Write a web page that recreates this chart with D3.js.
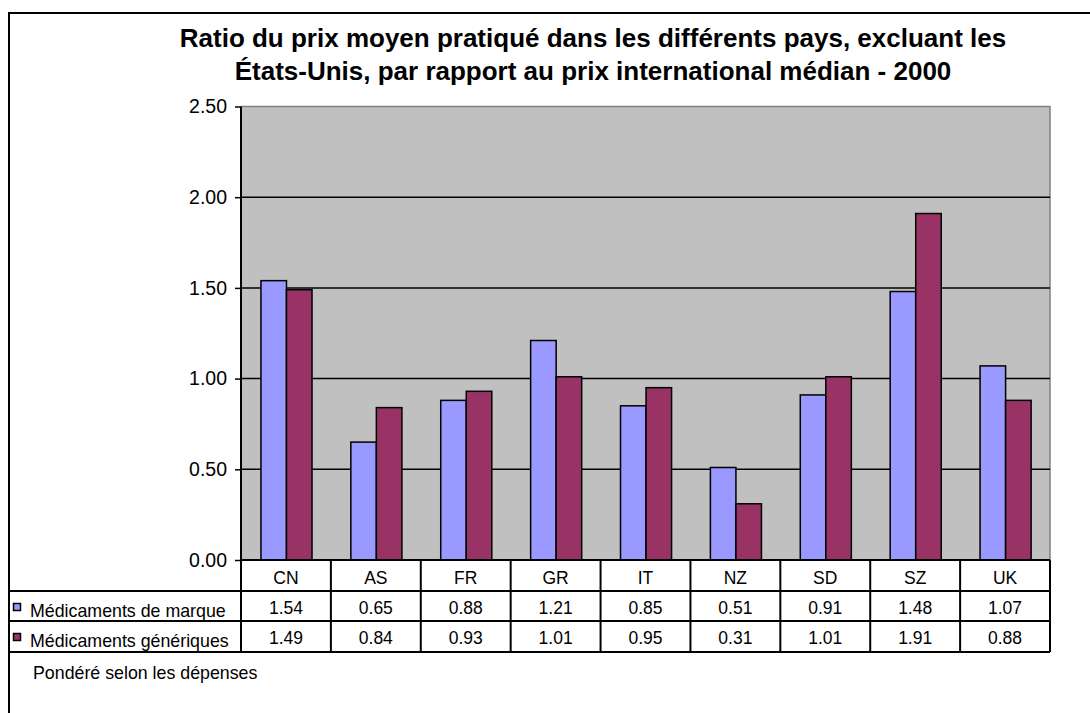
<!DOCTYPE html>
<html>
<head>
<meta charset="utf-8">
<script src="https://cdn.jsdelivr.net/npm/d3@7"></script>
<style>
  body { margin: 0; background: #fff; }
  svg { display: block; font-family: Arial, "Liberation Sans", sans-serif; }
</style>
</head>
<body>
<script>
// data
var countries = ["CN", "AS", "FR", "GR", "IT", "NZ", "SD", "SZ", "UK"];
var seriesNames = ["Médicaments de marque", "Médicaments génériques"];
var brandValues = [1.54, 0.65, 0.88, 1.21, 0.85, 0.51, 0.91, 1.48, 1.07];
var genericValues = [1.49, 0.84, 0.93, 1.01, 0.95, 0.31, 1.01, 1.91, 0.88];
var yTicks = [0, 0.5, 1, 1.5, 2, 2.5];
var titleLines = [
    "Ratio du prix moyen pratiqué dans les différents pays, excluant les",
    "États-Unis, par rapport au prix international médian - 2000"
];
var noteText = "Pondéré selon les dépenses";

var colors = ["#9999ff", "#993366"];
var seriesValues = [brandValues, genericValues];

var W = 1090, H = 713;
var plotLeft = 241, plotRight = 1050, plotTop = 106.5, plotBottom = 560;
var rowH = [31, 30, 31];

var svg = d3.select("body").append("svg")
    .attr("width", W)
    .attr("height", H);

// outer frame (runs off right and bottom edges)
svg.append("rect")
    .attr("x", 9).attr("y", 13)
    .attr("width", W + 20).attr("height", H + 20)
    .attr("fill", "#fff")
    .attr("stroke", "#000")
    .attr("stroke-width", 2);

// title
svg.append("text")
    .attr("text-anchor", "middle")
    .attr("font-weight", "bold")
    .attr("font-size", "26px")
    .selectAll("tspan")
    .data(titleLines)
    .enter().append("tspan")
        .attr("x", 593)
        .attr("y", function(d, i) { return 47 + i * 33; })
        .text(function(d) { return d; });

var x = d3.scaleBand()
    .domain(countries)
    .range([plotLeft, plotRight]);

var bw = x.bandwidth();
var x1 = d3.scaleBand()
    .domain(d3.range(seriesNames.length))
    .range([bw * 0.222, bw * 0.79]);

var y = d3.scaleLinear()
    .domain([0, 2.5])
    .range([plotBottom, plotTop]);

// plot background
svg.append("rect")
    .attr("x", plotLeft).attr("y", plotTop)
    .attr("width", plotRight - plotLeft).attr("height", plotBottom - plotTop)
    .attr("fill", "#c0c0c0");

svg.append("path")
    .attr("d", "M" + plotLeft + "," + plotTop + "H" + plotRight + "V" + plotBottom)
    .attr("fill", "none")
    .attr("stroke", "#808080")
    .attr("stroke-width", 1.5);

// gridlines
svg.append("g")
    .selectAll("line")
    .data(yTicks.slice(1, -1))
    .enter().append("line")
        .attr("x1", plotLeft).attr("x2", plotRight)
        .attr("y1", function(d) { return y(d); })
        .attr("y2", function(d) { return y(d); })
        .attr("stroke", "#000")
        .attr("stroke-width", 1.5);

// bars
var groups = svg.append("g")
    .selectAll("g")
    .data(countries)
    .enter().append("g")
        .attr("transform", function(d) { return "translate(" + x(d) + ",0)"; });

groups.selectAll("rect")
    .data(function(d, i) {
        return seriesValues.map(function(vals, s) { return { s: s, v: vals[i] }; });
    })
    .enter().append("rect")
        .attr("x", function(d) { return x1(d.s); })
        .attr("y", function(d) { return y(d.v); })
        .attr("width", x1.bandwidth())
        .attr("height", function(d) { return plotBottom - y(d.v); })
        .attr("fill", function(d) { return colors[d.s]; })
        .attr("stroke", "#000")
        .attr("stroke-width", 1.5);

// y axis
var yAxis = svg.append("g")
    .attr("transform", "translate(" + plotLeft + ",0)")
    .call(d3.axisLeft(y).tickValues(yTicks).tickFormat(d3.format(".2f")).tickSize(6).tickPadding(8));
yAxis.select(".domain").attr("stroke-width", 2).attr("d", "M0," + plotTop + "V" + plotBottom);
yAxis.selectAll(".tick line").attr("stroke-width", 1.5);
yAxis.selectAll("text")
    .attr("font-size", "19.5px")
    .attr("font-family", "Arial, 'Liberation Sans', sans-serif")
    .attr("fill", "#000");

// data table
var table = svg.append("g");
var r0 = plotBottom, r1 = r0 + rowH[0], r2 = r1 + rowH[1], r3 = r2 + rowH[2];

table.append("rect")
    .attr("x", plotLeft).attr("y", r0)
    .attr("width", plotRight - plotLeft).attr("height", rowH[0])
    .attr("fill", "#fff");

var hl = [[plotLeft, r0], [9, r1], [9, r2], [9, r3]];
table.selectAll("line.h")
    .data(hl)
    .enter().append("line")
        .attr("class", "h")
        .attr("x1", function(d) { return d[0]; })
        .attr("x2", plotRight)
        .attr("y1", function(d) { return d[1]; })
        .attr("y2", function(d) { return d[1]; })
        .attr("stroke", "#000")
        .attr("stroke-width", 2);

table.selectAll("line.v")
    .data(countries.map(function(c) { return x(c); }).concat([plotRight]))
    .enter().append("line")
        .attr("class", "v")
        .attr("x1", function(d) { return d; })
        .attr("x2", function(d) { return d; })
        .attr("y1", r0)
        .attr("y2", r3)
        .attr("stroke", "#000")
        .attr("stroke-width", 2);

table.selectAll("text.cat")
    .data(countries)
    .enter().append("text")
        .attr("class", "cat")
        .attr("x", function(d) { return x(d) + bw / 2; })
        .attr("y", r0 + 24)
        .attr("text-anchor", "middle")
        .attr("font-size", "17.5px")
        .text(function(d) { return d; });

seriesValues.forEach(function(vals, s) {
    var rowTop = s == 0 ? r1 : r2;
    table.selectAll("text.val" + s)
        .data(vals)
        .enter().append("text")
            .attr("class", "val" + s)
            .attr("x", function(d, i) { return x(countries[i]) + bw / 2; })
            .attr("y", rowTop + 22.5)
            .attr("text-anchor", "middle")
            .attr("font-size", "17.5px")
            .text(function(d) { return d3.format(".2f")(d); });

    table.append("rect")
        .attr("x", 13.5).attr("y", rowTop + 12.5)
        .attr("width", 7).attr("height", 7)
        .attr("fill", colors[s])
        .attr("stroke", "#000")
        .attr("stroke-width", 1.5);

    table.append("text")
        .attr("x", 30)
        .attr("y", rowTop + 25.5)
        .attr("font-size", "17.8px")
        .text(seriesNames[s]);
});

svg.append("text")
    .attr("x", 33)
    .attr("y", 679)
    .attr("font-size", "17.8px")
    .text(noteText);
</script>
</body>
</html>
